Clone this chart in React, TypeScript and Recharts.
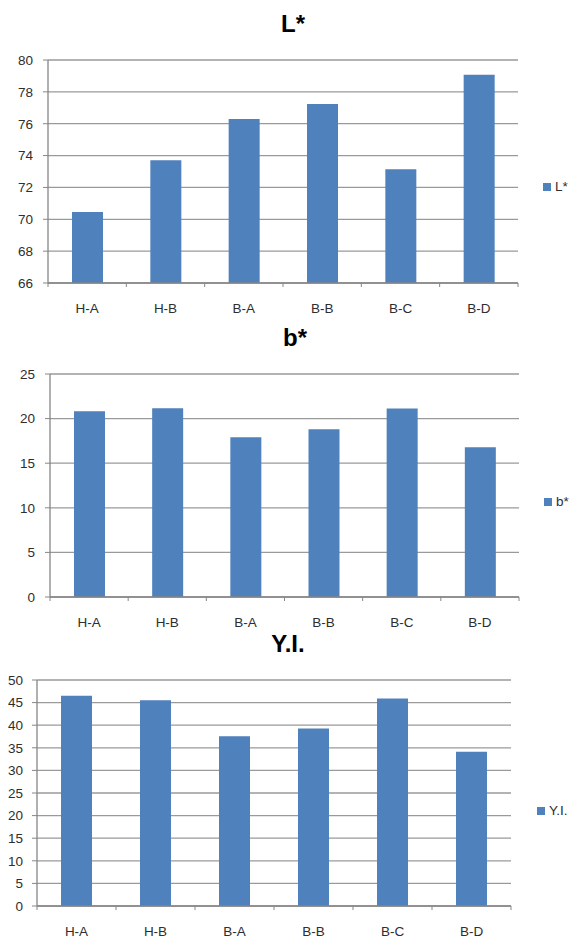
import React from 'react';
import { BarChart, Bar, XAxis, YAxis, CartesianGrid, Legend } from 'recharts';

const categories = ['H-A', 'H-B', 'B-A', 'B-B', 'B-C', 'B-D'];
const lValues = [70.45, 73.7, 76.3, 77.24, 73.14, 79.08];
const bValues = [20.82, 21.16, 17.91, 18.8, 21.12, 16.79];
const yiValues = [46.54, 45.5, 37.57, 39.26, 45.88, 34.12];

const lTicks = [66, 68, 70, 72, 74, 76, 78, 80];
const bTicks = [0, 5, 10, 15, 20, 25];
const yiTicks = [0, 5, 10, 15, 20, 25, 30, 35, 40, 45, 50];

const FONT = '"Liberation Sans", Arial, sans-serif';
const BLUE = '#4F81BD';
const GRID = '#9a9a9a';
const AXIS = '#868686';
const TEXT = '#2e2e2e';
const W = 571;

type PanelProps = {
  title: string;
  name: string;
  values: number[];
  ticks: number[];
  top: number;
  height: number;
  margin: { top: number; right: number; bottom: number; left: number };
  yWidth: number;
  tickGap: number;
  titleX: number;
  titleY: number;
  legendX: number;
  legendY: number;
};

const Panel: React.FC<PanelProps> = (p) => {
  const data = categories.map((c, i) => ({ name: c, value: p.values[i] }));
  // width of one category band, used for the boundary tick marks
  const band = (W - p.margin.left - p.yWidth - p.margin.right) / categories.length;

  const renderTick = (props: any) => {
    const { x, y, payload, index } = props;
    return (
      <g>
        <line x1={x - band / 2} x2={x - band / 2} y1={y} y2={y + 4} stroke={AXIS} />
        {index === categories.length - 1 && (
          <line x1={x + band / 2} x2={x + band / 2} y1={y} y2={y + 4} stroke={AXIS} />
        )}
        <text x={x} y={y + 25} dy="0.35em" textAnchor="middle" fill={TEXT} fontSize={13.5} fontFamily={FONT}>
          {payload.value}
        </text>
      </g>
    );
  };

  return (
    <div style={{ position: 'absolute', left: 0, top: p.top, width: W, height: p.height }}>
      <div
        style={{
          position: 'absolute',
          left: p.titleX - 60,
          width: 120,
          top: p.titleY - 15,
          height: 30,
          lineHeight: '30px',
          textAlign: 'center',
          fontFamily: FONT,
          fontWeight: 'bold',
          fontSize: 24,
          color: '#000',
          zIndex: 1,
        }}
      >
        {p.title}
      </div>
      <BarChart width={W} height={p.height} data={data} margin={p.margin}>
        <CartesianGrid vertical={false} stroke={GRID} strokeWidth={1.3} />
        <XAxis
          dataKey="name"
          axisLine={{ stroke: AXIS, strokeWidth: 1.3 }}
          tickLine={false}
          tickSize={0}
          tickMargin={0}
          interval={0}
          height={30}
          tick={renderTick}
        />
        <YAxis
          domain={[p.ticks[0], p.ticks[p.ticks.length - 1]]}
          ticks={p.ticks}
          interval={0}
          width={p.yWidth}
          axisLine={{ stroke: AXIS, strokeWidth: 1.3 }}
          tickLine={{ stroke: AXIS }}
          tickSize={5}
          tickMargin={p.tickGap}
          tick={{ fill: TEXT, fontSize: 13.5, fontFamily: FONT }}
        />
        <Legend
          layout="horizontal"
          verticalAlign="middle"
          align="center"
          iconType="square"
          iconSize={8}
          wrapperStyle={{ left: p.legendX, top: p.legendY - 8, width: 'auto', fontFamily: FONT, fontSize: 13.5 }}
          formatter={(value) => <span style={{ color: TEXT }}>{value}</span>}
        />
        <Bar dataKey="value" name={p.name} fill={BLUE} barSize={31} isAnimationActive={false} />
      </BarChart>
    </div>
  );
};

export default function App() {
  return (
    <div style={{ position: 'absolute', left: 0, top: 0, width: W, height: 940, background: '#fff' }}>
      <Panel
        title="L*"
        name="L*"
        values={lValues}
        ticks={lTicks}
        top={0}
        height={320}
        margin={{ top: 60, right: 53, bottom: 7, left: 0 }}
        yWidth={48}
        tickGap={10}
        titleX={293}
        titleY={24}
        legendX={543}
        legendY={187}
      />
      <Panel
        title="b*"
        name="b*"
        values={bValues}
        ticks={bTicks}
        top={320}
        height={310}
        margin={{ top: 54, right: 52, bottom: 3, left: 0 }}
        yWidth={50}
        tickGap={10}
        titleX={295}
        titleY={18}
        legendX={544}
        legendY={182}
      />
      <Panel
        title="Y.I."
        name="Y.I."
        values={yiValues}
        ticks={yiTicks}
        top={630}
        height={310}
        margin={{ top: 50, right: 60, bottom: 4, left: 0 }}
        yWidth={37}
        tickGap={9}
        titleX={288}
        titleY={14}
        legendX={537}
        legendY={181}
      />
    </div>
  );
}
